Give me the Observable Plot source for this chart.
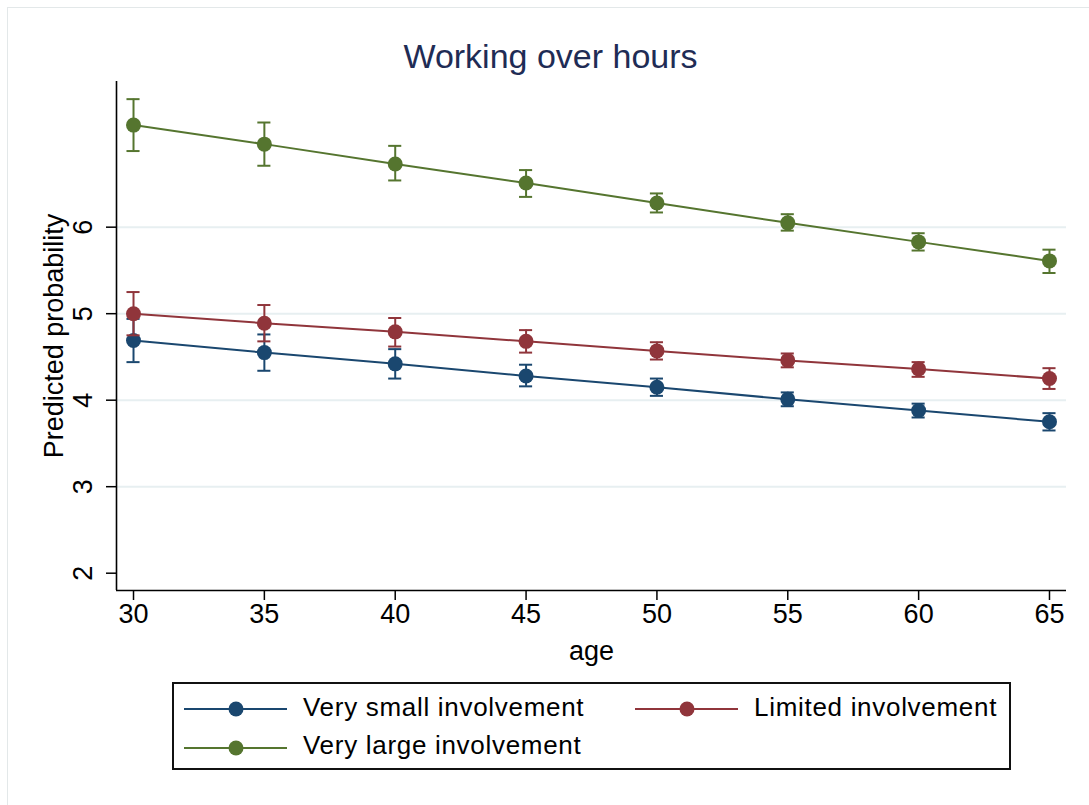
<!DOCTYPE html>
<html>
<head>
<meta charset="utf-8">
<script src="https://cdn.jsdelivr.net/npm/d3@7"></script>
<script src="https://cdn.jsdelivr.net/npm/@observablehq/plot@0.6"></script>
<style>
  html, body { margin: 0; padding: 0; background: #ffffff; }
  #graph { position: relative; width: 1089px; height: 805px; overflow: hidden; background: #ffffff;
           font-family: "Liberation Sans", Arial, sans-serif; }
  #outer { position: absolute; left: 7px; top: 7px; width: 1100px; height: 820px; border: 1px solid #e3e8e9; }
  #title { position: absolute; left: 0; top: 39px; width: 1101px; text-align: center;
           font-size: 34px; line-height: 34px; color: #1f2c55; }
  #chart { position: absolute; left: 0; top: 0; }
  #legend { position: absolute; left: 172px; top: 682px; width: 835px; height: 84px; border: 2px solid #111; }
  .sw { position: absolute; }
  .lab { position: absolute; font-size: 26px; line-height: 26px; letter-spacing: 0.7px; color: #000; white-space: nowrap; }
</style>
</head>
<body>
<div id="graph">
  <div id="outer"></div>
  <div id="title"></div>
  <div id="chart"></div>
  <div id="legend"></div>
</div>
<script>
// Predicted values with 95% confidence intervals, by age and involvement level
const ages = [30, 35, 40, 45, 50, 55, 60, 65];
const seriesNames = ["Very small involvement", "Limited involvement", "Very large involvement"];
const seriesColors = ["#1a476f", "#90353b", "#55752f"];

const smallFit = [4.69, 4.55, 4.42, 4.28, 4.15, 4.01, 3.88, 3.75];
const smallLo  = [4.44, 4.34, 4.25, 4.16, 4.05, 3.93, 3.80, 3.65];
const smallHi  = [4.94, 4.76, 4.59, 4.41, 4.25, 4.09, 3.96, 3.85];

const limitedFit = [5.00, 4.89, 4.79, 4.68, 4.57, 4.46, 4.36, 4.25];
const limitedLo  = [4.75, 4.68, 4.62, 4.55, 4.47, 4.38, 4.27, 4.13];
const limitedHi  = [5.25, 5.10, 4.95, 4.81, 4.67, 4.54, 4.44, 4.37];

const largeFit = [7.18, 6.96, 6.73, 6.51, 6.28, 6.05, 5.83, 5.61];
const largeLo  = [6.88, 6.71, 6.54, 6.35, 6.17, 5.96, 5.73, 5.47];
const largeHi  = [7.48, 7.21, 6.94, 6.66, 6.39, 6.15, 5.93, 5.74];

const yTicks = [2, 3, 4, 5, 6];
const yGrid = [3, 4, 5, 6];
const xDomain = [29.35, 65.65];
const yDomain = [1.8, 7.684];

const titleText = "Working over hours";
const xLabel = "age";
const yLabel = "Predicted probability";

// long table for the library
const fits = [smallFit, limitedFit, largeFit];
const los = [smallLo, limitedLo, largeLo];
const his = [smallHi, limitedHi, largeHi];
const rows = [];
seriesNames.forEach((s, i) => {
  ages.forEach((a, j) => rows.push({series: s, age: a, fit: fits[i][j], lo: los[i][j], hi: his[i][j]}));
});

const capHalf = 0.25; // half-width of the CI caps, in years

const chart = Plot.plot({
  width: 1089,
  height: 680,
  marginLeft: 116,
  marginRight: 23,
  marginTop: 81,
  marginBottom: 90,
  style: {fontFamily: "'Liberation Sans', Arial, sans-serif", fontSize: "27px", color: "#000", background: "transparent"},
  x: {domain: xDomain},
  y: {domain: yDomain},
  color: {domain: seriesNames, range: seriesColors},
  marks: [
    Plot.gridY(yGrid, {stroke: "#e7eff1", strokeOpacity: 1, strokeWidth: 2}),
    Plot.ruleX([xDomain[0]], {stroke: "#000", strokeWidth: 1.6}),
    Plot.ruleY([yDomain[0]], {stroke: "#000", strokeWidth: 1.6}),
    Plot.axisX({ticks: ages, tickSize: 10, tickPadding: 3, fontSize: 27, tickFormat: d3.format("d"), label: null, stroke: "#000", strokeWidth: 1.5}),
    Plot.axisY({ticks: yTicks, tickSize: 10, tickPadding: 15, tickRotate: -90, fontSize: 27, tickFormat: d3.format("d"), label: null, stroke: "#000", strokeWidth: 1.5}),
    Plot.text([xLabel], {frameAnchor: "bottom", lineAnchor: "middle", dy: 61, fontSize: 27, fill: "#000"}),
    Plot.text([yLabel], {frameAnchor: "left", textAnchor: "middle", lineAnchor: "middle", dx: -62, rotate: -90, fontSize: 27, fill: "#000"}),
    // per series: CI spikes with caps, connecting line, markers
    ...seriesNames.flatMap(s => {
      const d = rows.filter(r => r.series === s);
      return [
        Plot.ruleX(d, {x: "age", y1: "lo", y2: "hi", stroke: "series", strokeWidth: 2}),
        Plot.ruleY(d, {y: "lo", x1: r => r.age - capHalf, x2: r => r.age + capHalf, stroke: "series", strokeWidth: 2}),
        Plot.ruleY(d, {y: "hi", x1: r => r.age - capHalf, x2: r => r.age + capHalf, stroke: "series", strokeWidth: 2}),
        Plot.line(d, {x: "age", y: "fit", stroke: "series", strokeWidth: 2}),
        Plot.dot(d, {x: "age", y: "fit", r: 7.5, fill: "series", stroke: "none"})
      ];
    })
  ]
});
document.getElementById("chart").appendChild(chart);
document.getElementById("title").textContent = titleText;

// legend: two columns, three keys
const legend = document.getElementById("legend");
const legendPos = [
  {col: 0, row: 0}, {col: 1, row: 0}, {col: 0, row: 1}
];
seriesNames.forEach((name, i) => {
  const p = legendPos[i];
  const cx = 10 + p.col * 451;         // swatch left inside the box
  const cy = 25.3 + p.row * 38.4;      // row centre inside the box
  const svg = d3.create("svg").attr("class", "sw").attr("width", 104).attr("height", 20)
    .style("left", cx + "px").style("top", (cy - 10) + "px");
  svg.append("line").attr("x1", 0).attr("x2", 103).attr("y1", 10).attr("y2", 10)
    .attr("stroke", seriesColors[i]).attr("stroke-width", 2);
  svg.append("circle").attr("cx", 52).attr("cy", 10).attr("r", 7.5).attr("fill", seriesColors[i]);
  legend.appendChild(svg.node());
  const lab = document.createElement("div");
  lab.className = "lab";
  lab.textContent = name;
  lab.style.left = (129 + p.col * 451) + "px";
  lab.style.top = (cy - 15.5) + "px";
  legend.appendChild(lab);
});
</script>
</body>
</html>
